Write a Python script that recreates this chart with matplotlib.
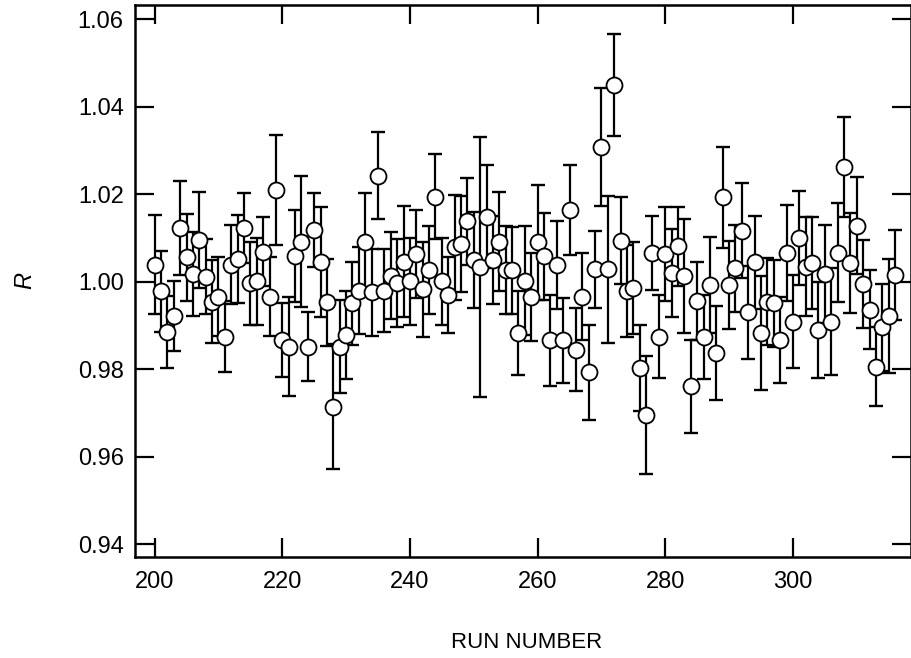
import numpy as np
import matplotlib
matplotlib.use("Agg")
import matplotlib.pyplot as plt

plt.rcParams["font.family"] = ["Liberation Sans", "DejaVu Sans"]

# run numbers 200..316, ratio R and its one-sigma error
runs = np.arange(200, 317)
r_values = [
    1.0039, 0.9978, 0.9886, 0.9921, 1.0123, 1.0056, 1.0018, 1.0096, 1.0012, 0.9955,
    0.9966, 0.9875, 1.0039, 1.0052, 1.0123, 0.9997, 1.0001, 1.0069, 0.9966, 1.0210,
    0.9867, 0.9852, 1.0059, 1.0092, 0.9852, 1.0119, 1.0046, 0.9953, 0.9715, 0.9852,
    0.9879, 0.9951, 0.9980, 1.0090, 0.9976, 1.0243, 0.9980, 1.0014, 0.9997, 1.0046,
    1.0001, 1.0064, 0.9983, 1.0027, 1.0195, 1.0001, 0.9970, 1.0079, 1.0087, 1.0138,
    1.0050, 1.0033, 1.0149, 1.0050, 1.0092, 1.0027, 1.0026, 0.9883, 1.0003, 0.9965,
    1.0090, 1.0058, 0.9866, 1.0039, 0.9866, 1.0165, 0.9845, 0.9966, 0.9793, 1.0029,
    1.0308, 1.0029, 1.0450, 1.0094, 0.9980, 0.9986, 0.9803, 0.9696, 1.0066, 0.9875,
    1.0064, 1.0020, 1.0081, 1.0014, 0.9761, 0.9957, 0.9874, 0.9993, 0.9837, 1.0193,
    0.9993, 1.0031, 1.0117, 0.9930, 1.0045, 0.9883, 0.9955, 0.9951, 0.9867, 1.0066,
    0.9909, 1.0100, 1.0035, 1.0043, 0.9890, 1.0018, 0.9909, 1.0067, 1.0262, 1.0043,
    1.0128, 0.9995, 0.9936, 0.9806, 0.9896, 0.9922, 1.0016,
]
r_errors = [
    0.0113, 0.0092, 0.0082, 0.0080, 0.0107, 0.0100, 0.0095, 0.0110, 0.0085, 0.0095,
    0.0090, 0.0082, 0.0090, 0.0100, 0.0080, 0.0095, 0.0100, 0.0079, 0.0090, 0.0125,
    0.0085, 0.0114, 0.0105, 0.0150, 0.0078, 0.0084, 0.0126, 0.0100, 0.0142, 0.0106,
    0.0100, 0.0095, 0.0100, 0.0113, 0.0100, 0.0099, 0.0095, 0.0100, 0.0100, 0.0127,
    0.0100, 0.0100, 0.0108, 0.0100, 0.0098, 0.0100, 0.0086, 0.0120, 0.0110, 0.0099,
    0.0110, 0.0297, 0.0118, 0.0100, 0.0114, 0.0100, 0.0100, 0.0095, 0.0125, 0.0100,
    0.0132, 0.0099, 0.0105, 0.0101, 0.0097, 0.0103, 0.0095, 0.0100, 0.0108, 0.0088,
    0.0135, 0.0168, 0.0117, 0.0100, 0.0105, 0.0105, 0.0099, 0.0135, 0.0085, 0.0095,
    0.0107, 0.0100, 0.0090, 0.0130, 0.0106, 0.0089, 0.0096, 0.0110, 0.0107, 0.0115,
    0.0100, 0.0100, 0.0108, 0.0107, 0.0106, 0.0130, 0.0100, 0.0100, 0.0099, 0.0110,
    0.0107, 0.0107, 0.0113, 0.0105, 0.0110, 0.0112, 0.0122, 0.0113, 0.0114, 0.0114,
    0.0111, 0.0100, 0.0090, 0.0090, 0.0100, 0.0130, 0.0103,
]
x_ticks = [200, 220, 240, 260, 280, 300]
y_ticks = [0.94, 0.96, 0.98, 1.00, 1.02, 1.04, 1.06]

fig = plt.figure(figsize=(9.11, 6.58), dpi=100)
ax = fig.add_axes([0.148, 0.1535, 0.852, 0.839])

ax.errorbar(runs, r_values, yerr=r_errors, fmt="none", ecolor="black",
            elinewidth=1.6, capsize=5.2, capthick=1.7, zorder=2)
ax.plot(runs, r_values, "o", ms=11.5, mfc="white", mec="black", mew=1.3,
        zorder=3, linestyle="none")

ax.set_xlim(196.9, 318.5)
ax.set_ylim(0.9371, 1.0633)
ax.set_xticks(x_ticks)
ax.set_yticks(y_ticks)
ax.set_yticklabels([f"{v:.2f}" for v in y_ticks])
ax.tick_params(direction="in", length=14, width=1.6, labelsize=17,
               top=True, right=True, pad=8)
ax.tick_params(axis="x", pad=10)
for s in ax.spines.values():
    s.set_linewidth(1.8)

ax.set_xlabel("RUN NUMBER", fontsize=16, va="center")
ax.xaxis.set_label_coords(0.505, -0.154)
ax.set_ylabel("R", fontsize=17, style="italic", rotation=90, va="center")
ax.yaxis.set_label_coords(-0.142, 0.5)

fig.savefig("out.png", dpi=100)
